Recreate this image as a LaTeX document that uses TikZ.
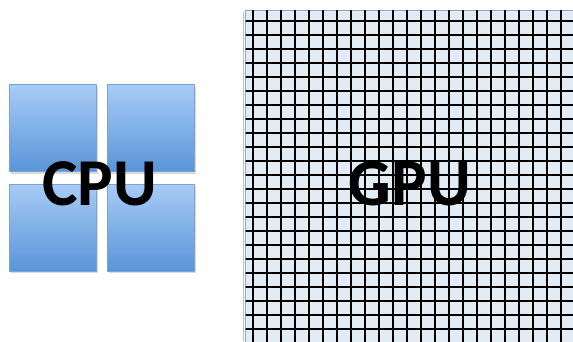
\documentclass[tikz,border=0pt]{standalone}
\usepackage{fontspec}
\setmainfont{Carlito}
\usetikzlibrary{shadows}
\definecolor{sqtop}{HTML}{A8CBF6}
\definecolor{sqbot}{HTML}{5895D8}
\definecolor{sqedge}{HTML}{7AA3D6}
\definecolor{gridfill}{HTML}{E3EBF5}
\definecolor{gridedge}{HTML}{8BAAD2}
\begin{document}
\begin{tikzpicture}[x=1pt,y=-1pt,
  cpusq/.style={draw=sqedge, line width=0.8pt, top color=sqtop, bottom color=sqbot,
    minimum size=87pt, inner sep=0pt,
    drop shadow={opacity=0.3, shadow xshift=1.2pt, shadow yshift=-1.8pt}},
  gpubox/.style={draw=gridedge, line width=1pt, fill=gridfill, anchor=north west,
    minimum width=340pt, minimum height=345pt, inner sep=0pt},
  gridline/.style={black, line width=2.2pt},
  bigtext/.style={font=\bfseries\fontsize{67}{67}\selectfont, inner sep=0pt, text=black}]
\useasboundingbox (0,0) rectangle (573,341);
% GPU box
\draw[black!25, line width=1.2pt] (243.6,12) -- (243.6,341);
\node[gpubox] (gpu) at (245,10) {};
\begin{scope}
  \clip (245.5,10.5) rectangle (590,350);
  \foreach \i in {0,...,24} \draw[gridline] (253+14*\i,10) -- ++(0,345);
  \foreach \j in {0,...,24} \draw[gridline] (245,21+14*\j) -- ++(345,0);
\end{scope}
\node[bigtext] (gtxt) at (410,183.7) {GPU};
% CPU squares
\node[cpusq] (q1) at (53.3,128.3) {};
\node[cpusq] (q2) at (151.2,128.3) {};
\node[cpusq] (q3) at (53.3,227.8) {};
\node[cpusq] (q4) at (151.2,227.8) {};
\node[bigtext] (ctxt) at (99.7,183.3) {CPU};
\end{tikzpicture}
\end{document}
